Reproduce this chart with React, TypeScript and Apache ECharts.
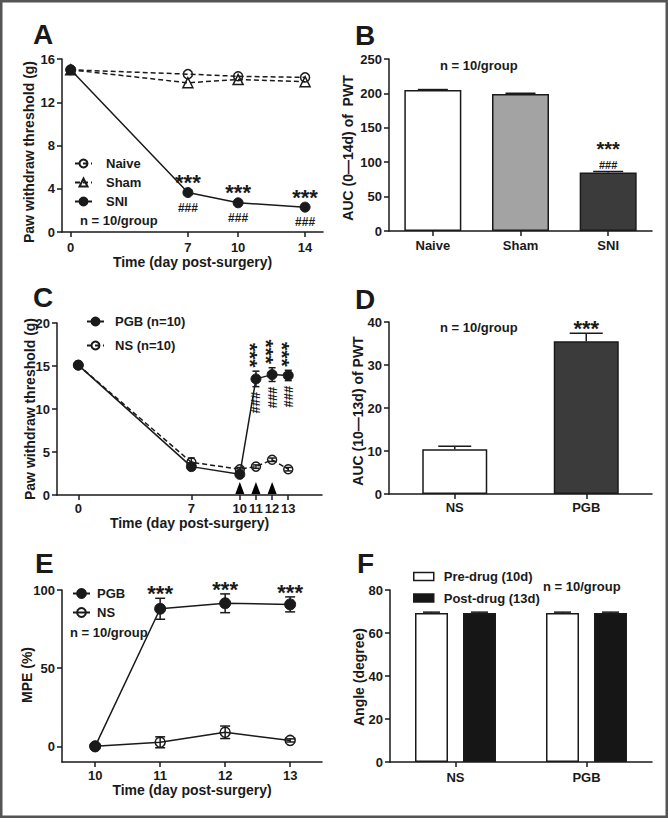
import React, { useEffect, useRef } from 'react';
import * as echarts from 'echarts';

const FONT = '"Liberation Sans", Arial, Helvetica, sans-serif';
const INK = '#1a1a1a';

// ---------- Panel A ----------
const daysA = [0, 7, 10, 14];
const ticksA = [0, 7, 10, 14];
const naiveA = [15.0, 14.6, 14.4, 14.3];
const shamA = [15.0, 13.8, 14.1, 13.9];
const sniA = [15.0, 3.65, 2.7, 2.3];
const sigIdxA = [1, 2, 3];

// ---------- Panel B ----------
const groupsB = ['Naive', 'Sham', 'SNI'];
const aucB = [205, 199, 85];
const aucErrB = [0.6, 1.2, 1.5];
const colorsB = ['#ffffff', '#a3a3a3', '#3b3b3b'];
const sigIdxB = [2];

// ---------- Panel C ----------
const daysC = [0, 7, 10, 11, 12, 13];
const ticksC = [0, 7, 10, 11, 12, 13];
const pgbC = [15.1, 3.3, 2.4, 13.5, 14.0, 13.9];
const pgbErrC = [0.2, 0.4, 0.2, 0.9, 0.8, 0.6];
const nsC = [15.1, 3.8, 3.0, 3.3, 4.1, 3.0];
const nsErrC = [0.2, 0.5, 0.2, 0.2, 0.2, 0.2];
const sigIdxC = [3, 4, 5];
const arrowDaysC = [10, 11, 12];
const arrowLevelC = [0.8, 0.8, 0.8];

// ---------- Panel D ----------
const groupsD = ['NS', 'PGB'];
const aucD = [10.4, 35.5];
const aucErrD = [0.7, 1.9];
const colorsD = ['#ffffff', '#3b3b3b'];
const sigIdxD = [1];

// ---------- Panel E ----------
const daysE = [10, 11, 12, 13];
const ticksE = [10, 11, 12, 13];
const ticksYE = [0, 50, 100];
const pgbE = [0, 88, 91.5, 90.8];
const pgbErrE = [0, 6.7, 6, 4.8];
const nsE = [0, 2.6, 9, 3.8];
const nsErrE = [0, 3.5, 4, 1];
const sigIdxE = [1, 2, 3];

// ---------- Panel F ----------
const groupsF = ['NS', 'PGB'];
const preF = [69.3, 69.3];
const postF = [69.3, 69.3];
const preErrF = [0.4, 0.4];
const postErrF = [0.4, 0.4];

const zip = (xs: number[], ys: number[]) => xs.map((x, i) => [x, ys[i]]);

const lineW = 1.5;
const axisLine = { show: true, onZero: false, lineStyle: { color: INK, width: lineW } };
const tickStyle = { color: INK, width: lineW };
const labelStyle = { color: INK, fontSize: 13, fontWeight: 'bold', fontFamily: FONT };
const nameStyle = { color: INK, fontSize: 14, fontWeight: 'bold', fontFamily: FONT };

function valueX(grid: number, min: number, max: number, ticks: number[], margin: number, name: string, nameGap: number) {
  return {
    type: 'value', gridIndex: grid, min, max,
    axisLine, axisTick: { show: true, length: 5, lineStyle: tickStyle, customValues: ticks },
    axisLabel: { ...labelStyle, margin, customValues: ticks },
    splitLine: { show: false },
    name, nameLocation: 'middle', nameGap, nameTextStyle: nameStyle,
  };
}
function catX(grid: number, data: string[], margin: number) {
  return {
    type: 'category', gridIndex: grid, data,
    axisLine, axisTick: { show: true, alignWithLabel: true, length: 5, lineStyle: tickStyle },
    axisLabel: { ...labelStyle, margin },
    splitLine: { show: false },
  };
}
function valueY(grid: number, min: number, max: number, interval: number | null, ticks?: number[]) {
  const o: any = {
    type: 'value', gridIndex: grid, min, max,
    axisLine, axisTick: { show: true, length: 5, lineStyle: tickStyle },
    axisLabel: { ...labelStyle, margin: 7 },
    splitLine: { show: false },
  };
  if (interval !== null) o.interval = interval;
  if (ticks) {
    o.axisTick.customValues = ticks;
    o.axisLabel.customValues = ticks;
  }
  return o;
}

let errCount = 0;
function errSeries(grid: number, pts: number[][], cap: number, both: boolean) {
  errCount += 1;
  return {
    type: 'custom', name: 'err' + errCount, xAxisIndex: grid, yAxisIndex: grid,
    silent: true, z: 4, data: pts,
    renderItem: (_p: any, api: any) => {
      const x = api.value(0);
      const lo = api.value(1);
      const hi = api.value(2);
      const off = api.value(3) || 0;
      const a = api.coord([x, lo]);
      const b = api.coord([x, hi]);
      const cx = a[0] + off;
      const st = { stroke: INK, lineWidth: lineW };
      const children: any[] = [
        { type: 'line', shape: { x1: cx, y1: a[1], x2: cx, y2: b[1] }, style: st },
        { type: 'line', shape: { x1: cx - cap / 2, y1: b[1], x2: cx + cap / 2, y2: b[1] }, style: st },
      ];
      if (both) children.push({ type: 'line', shape: { x1: cx - cap / 2, y1: a[1], x2: cx + cap / 2, y2: a[1] }, style: st });
      return { type: 'group', children };
    },
  };
}

function annot(grid: number, pts: number[][], text: string, dy: number, fontSize: number, opts: any = {}) {
  return {
    type: 'custom', xAxisIndex: grid, yAxisIndex: grid, silent: true, z: 6, data: pts,
    renderItem: (_p: any, api: any) => {
      const c = api.coord([api.value(0), api.value(1)]);
      return {
        type: 'text', x: c[0] + (opts.dx || 0), y: c[1] + dy, rotation: opts.rotation || 0,
        style: {
          text, fill: INK, fontSize, fontWeight: 'bold', fontFamily: FONT,
          align: 'center', verticalAlign: 'middle', lineHeight: opts.lineHeight || fontSize,
        },
      };
    },
  };
}

const hollow = { color: 'rgba(0,0,0,0)', borderColor: INK, borderWidth: lineW };
const filled = { color: INK, borderColor: INK, borderWidth: 1 };
const solid = { color: INK, width: lineW };
const dashed = { color: INK, width: lineW, type: [5, 3] };

function txt(x: number, y: number, text: string, fontSize: number, align = 'left', rotation = 0) {
  return {
    type: 'text', x, y, rotation, silent: true,
    style: { text, fill: INK, fontSize, fontWeight: 'bold', fontFamily: FONT, align, verticalAlign: 'middle' },
  };
}

const legendText = (pad: number) => ({ color: INK, fontSize: 13, fontWeight: 'bold', fontFamily: FONT, padding: [0, 0, 0, pad] });

const F_BAR = 33;
const F_GAP = 15;
const fOff = (F_BAR + F_GAP) / 2;

export default function App() {
  const ref = useRef<HTMLDivElement>(null);
  useEffect(() => {
    if (!ref.current) return;
    const chart = echarts.init(ref.current, null, { renderer: 'svg' });
    const option: any = {
      animation: false,
      backgroundColor: '#ffffff',
      grid: [
        { left: 62, top: 59, width: 261, height: 173, outerBoundsMode: 'none' },
        { left: 389, top: 59, width: 263, height: 172, outerBoundsMode: 'none' },
        { left: 57, top: 323, width: 265, height: 172, outerBoundsMode: 'none' },
        { left: 389, top: 322, width: 263, height: 172, outerBoundsMode: 'none' },
        { left: 62, top: 590, width: 260, height: 172, outerBoundsMode: 'none' },
        { left: 390, top: 590, width: 262, height: 172, outerBoundsMode: 'none' },
      ],
      xAxis: [
        valueX(0, -0.52, 15.07, ticksA, 9, 'Time (day post-surgery)', 23),
        catX(1, groupsB, 8),
        valueX(2, -1.32, 15.09, ticksC, 7, 'Time (day post-surgery)', 20),
        catX(3, groupsD, 7),
        valueX(4, 9.49, 13.49, ticksE, 7, 'Time (day post-surgery)', 21),
        catX(5, groupsF, 9),
      ],
      yAxis: [
        valueY(0, 0, 16, 4),
        valueY(1, 0, 250, 50),
        valueY(2, 0, 20, 5),
        valueY(3, 0, 40, 10),
        valueY(4, -10, 100, null, ticksYE),
        valueY(5, 0, 80, 20),
      ],
      legend: [
        {
          left: 74, top: 157, orient: 'vertical', itemWidth: 17, itemHeight: 10, itemGap: 6, padding: 0,
          selectedMode: false, data: ['Naive', 'Sham', 'SNI'], textStyle: legendText(9),
        },
        {
          left: 86, top: 315, orient: 'vertical', itemWidth: 17, itemHeight: 10, itemGap: 11, padding: 0,
          selectedMode: false, data: ['PGB (n=10)', 'NS (n=10)'], textStyle: legendText(6),
        },
        {
          left: 72, top: 587, orient: 'vertical', itemWidth: 17, itemHeight: 11, itemGap: 6, padding: 0,
          selectedMode: false, data: ['PGB', 'NS'], textStyle: legendText(2),
        },
        {
          left: 413, top: 570, orient: 'vertical', itemWidth: 20, itemHeight: 8, itemGap: 8.5, padding: 0,
          selectedMode: false, icon: 'rect',
          data: [
            { name: 'Pre-drug (10d)', itemStyle: { color: '#ffffff', borderColor: INK, borderWidth: lineW } },
            { name: 'Post-drug (13d)', itemStyle: { color: '#161616', borderColor: INK, borderWidth: lineW } },
          ],
          textStyle: legendText(5),
        },
      ],
      series: [
        // ----- A -----
        { type: 'line', name: 'Naive', xAxisIndex: 0, yAxisIndex: 0, data: zip(daysA, naiveA), symbol: 'circle', symbolSize: 9, itemStyle: hollow, lineStyle: dashed, z: 3 },
        { type: 'line', name: 'Sham', xAxisIndex: 0, yAxisIndex: 0, data: zip(daysA, shamA), symbol: 'triangle', symbolSize: 10, itemStyle: hollow, lineStyle: dashed, z: 3 },
        { type: 'line', name: 'SNI', xAxisIndex: 0, yAxisIndex: 0, data: zip(daysA, sniA), symbol: 'circle', symbolSize: 10, itemStyle: filled, lineStyle: solid, z: 4 },
        annot(0, sigIdxA.map((i) => [daysA[i], sniA[i]]), '***', -10, 22, { lineHeight: 10 }),
        annot(0, sigIdxA.map((i) => [daysA[i], sniA[i]]), '###', 15, 12),
        // ----- B -----
        {
          type: 'bar', name: 'AUC B', xAxisIndex: 1, yAxisIndex: 1, barWidth: 57,
          data: aucB.map((v, i) => ({ value: v, itemStyle: { color: colorsB[i] } })),
          itemStyle: { borderColor: INK, borderWidth: lineW },
        },
        errSeries(1, aucB.map((v, i) => [i, v, v + aucErrB[i], 0]), 30, false),
        annot(1, sigIdxB.map((i) => [i, aucB[i] + aucErrB[i]]), '***', -22, 20, { lineHeight: 10 }),
        annot(1, sigIdxB.map((i) => [i, aucB[i] + aucErrB[i]]), '###', -6.5, 11, { lineHeight: 10 }),
        // ----- C -----
        { type: 'line', name: 'NS (n=10)', xAxisIndex: 2, yAxisIndex: 2, data: zip(daysC, nsC), symbol: 'circle', symbolSize: 9, itemStyle: hollow, lineStyle: dashed, z: 3 },
        { type: 'line', name: 'PGB (n=10)', xAxisIndex: 2, yAxisIndex: 2, data: zip(daysC, pgbC), symbol: 'circle', symbolSize: 10, itemStyle: filled, lineStyle: solid, z: 4 },
        errSeries(2, daysC.map((d, i) => [d, nsC[i] - nsErrC[i], nsC[i] + nsErrC[i], 0]), 7, true),
        errSeries(2, daysC.map((d, i) => [d, pgbC[i] - pgbErrC[i], pgbC[i] + pgbErrC[i], 0]), 7, true),
        annot(2, sigIdxC.map((i) => [daysC[i], pgbC[i] + pgbErrC[i]]), '***', -16, 21, { rotation: -Math.PI / 2, dx: -5.5, lineHeight: 12 }),
        annot(2, sigIdxC.map((i) => [daysC[i], pgbC[i] - pgbErrC[i]]), '###', 16, 13, { rotation: -Math.PI / 2, dx: 0, lineHeight: 10 }),
        {
          type: 'scatter', name: 'arrows', xAxisIndex: 2, yAxisIndex: 2, silent: true, z: 5,
          symbol: 'triangle', symbolSize: [9, 12],
          itemStyle: { color: '#000000', opacity: 1 }, data: zip(arrowDaysC, arrowLevelC),
        },
        // ----- D -----
        {
          type: 'bar', name: 'AUC D', xAxisIndex: 3, yAxisIndex: 3, barWidth: 65,
          data: aucD.map((v, i) => ({ value: v, itemStyle: { color: colorsD[i] } })),
          itemStyle: { borderColor: INK, borderWidth: lineW },
        },
        errSeries(3, aucD.map((v, i) => [i, v, v + aucErrD[i], 0]), 33, false),
        annot(3, sigIdxD.map((i) => [i, aucD[i] + aucErrD[i]]), '***', -5, 22, { lineHeight: 10 }),
        // ----- E -----
        { type: 'line', name: 'NS', xAxisIndex: 4, yAxisIndex: 4, data: zip(daysE, nsE), symbol: 'circle', symbolSize: 10, itemStyle: hollow, lineStyle: solid, z: 3 },
        { type: 'line', name: 'PGB', xAxisIndex: 4, yAxisIndex: 4, data: zip(daysE, pgbE), symbol: 'circle', symbolSize: 11, itemStyle: filled, lineStyle: solid, z: 4 },
        errSeries(4, daysE.map((d, i) => [d, nsE[i] - nsErrE[i], nsE[i] + nsErrE[i], 0]), 10, true),
        errSeries(4, daysE.map((d, i) => [d, pgbE[i] - pgbErrE[i], pgbE[i] + pgbErrE[i], 0]), 10, true),
        annot(4, sigIdxE.map((i) => [daysE[i], pgbE[i] + pgbErrE[i]]), '***', -4.5, 22, { lineHeight: 10 }),
        // ----- F -----
        {
          type: 'bar', name: 'Pre-drug (10d)', xAxisIndex: 5, yAxisIndex: 5, barWidth: F_BAR, barGap: (F_GAP / F_BAR * 100) + '%',
          data: preF, itemStyle: { color: '#ffffff', borderColor: INK, borderWidth: lineW },
        },
        {
          type: 'bar', name: 'Post-drug (13d)', xAxisIndex: 5, yAxisIndex: 5, barWidth: F_BAR, barGap: (F_GAP / F_BAR * 100) + '%',
          data: postF, itemStyle: { color: '#161616', borderColor: INK, borderWidth: lineW },
        },
        errSeries(5, preF.map((v, i) => [i, v, v + preErrF[i], -fOff]), 17, false),
        errSeries(5, postF.map((v, i) => [i, v, v + postErrF[i], fOff]), 17, false),
      ],
      graphic: [
        { type: 'rect', silent: true, shape: { x: 1.25, y: 1.25, width: 665.5, height: 815.5 }, style: { fill: 'none', stroke: '#555555', lineWidth: 2.5 } },
        txt(33, 34, 'A', 28),
        txt(355, 35, 'B', 28),
        txt(33, 297, 'C', 28),
        txt(355, 299, 'D', 28),
        txt(35, 563, 'E', 28),
        txt(357, 563, 'F', 28),
        txt(29, 152, 'Paw withdraw threshold (g)', 14, 'center', Math.PI / 2),
        txt(348, 148, 'AUC (0\u201414d) of  PWT', 14, 'center', Math.PI / 2),
        txt(30, 409, 'Paw withdraw threshold (g)', 14, 'center', Math.PI / 2),
        txt(358, 411, 'AUC (10\u201413d) of PWT', 14, 'center', Math.PI / 2),
        txt(27, 675, 'MPE (%)', 14, 'center', Math.PI / 2),
        txt(359, 677, 'Angle (degree)', 14, 'center', Math.PI / 2),
        txt(80, 220, 'n = 10/group', 13),
        txt(440, 65, 'n = 10/group', 13),
        txt(440, 327, 'n = 10/group', 13),
        txt(70, 632, 'n = 10/group', 13),
        txt(543, 586, 'n = 10/group', 13),
      ],
    };
    chart.setOption(option);
    return () => chart.dispose();
  }, []);
  return (
    <div
      ref={ref}
      style={{ position: 'absolute', left: 0, top: 0, width: 668, height: 830, background: '#ffffff' }}
    />
  );
}
